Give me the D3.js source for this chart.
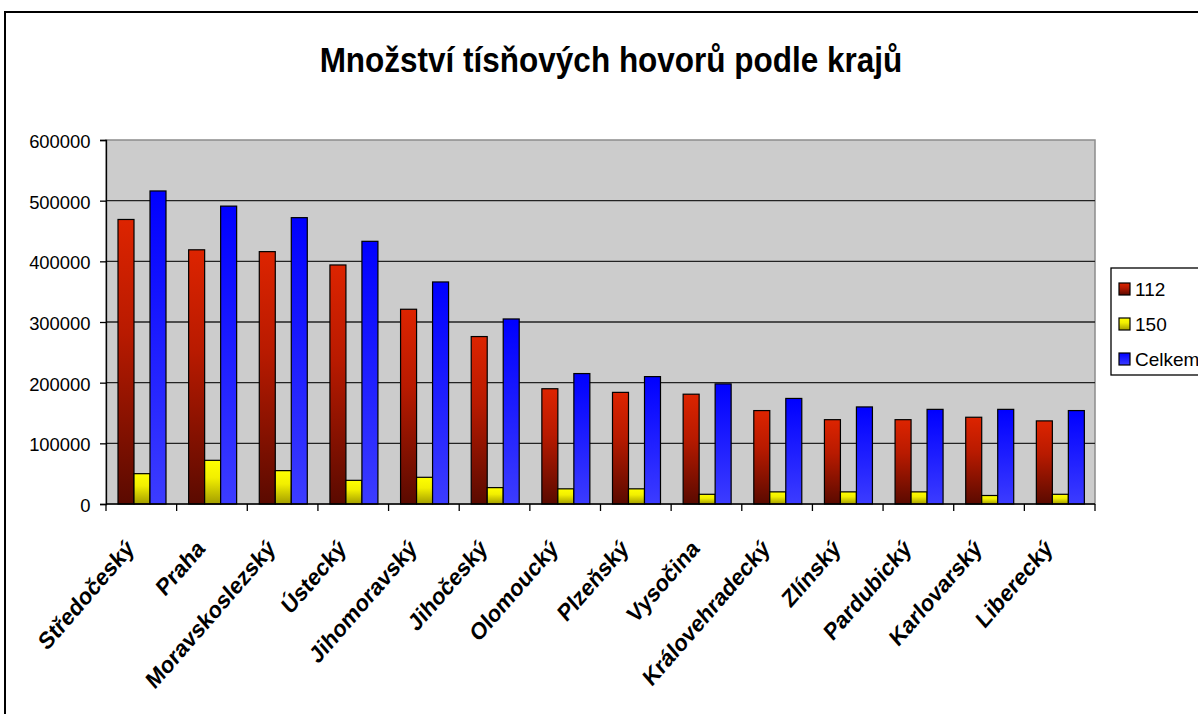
<!DOCTYPE html>
<html>
<head>
<meta charset="utf-8">
<script src="https://cdn.jsdelivr.net/npm/d3@7"></script>
<style>
  body { margin: 0; background: #fff; }
  svg { display: block; font-family: "Liberation Sans", Arial, sans-serif; }
</style>
</head>
<body>
<svg id="chart" width="1198" height="714"></svg>
<script>
// data
const regions = ['Středočeský', 'Praha', 'Moravskoslezský', 'Ústecký', 'Jihomoravský',
  'Jihočeský', 'Olomoucký', 'Plzeňský', 'Vysočina', 'Královehradecký',
  'Zlínský', 'Pardubický', 'Karlovarský', 'Liberecký'];
const calls112 = [469000, 419000, 416000, 394000, 321000, 276000, 190000, 184000, 181000, 154000, 139000, 139000, 143000, 137000];
const calls150 = [50000, 72000, 55000, 39000, 44000, 27000, 25000, 25000, 16000, 20000, 20000, 20000, 14000, 16000];
const callsTotal = [516000, 491000, 472000, 433000, 366000, 305000, 215000, 210000, 198000, 174000, 160000, 156000, 156000, 154000];
const seriesNames = ['112', '150', 'Celkem'];
const yTicks = [0, 100000, 200000, 300000, 400000, 500000, 600000];

const seriesValues = [calls112, calls150, callsTotal];
const rows = regions.map((r, i) => ({
  region: r,
  values: seriesNames.map((s, k) => ({ key: s, value: seriesValues[k][i] }))
}));

const svg = d3.select('#chart');
const plot = { left: 106, right: 1095, top: 140, bottom: 504 };

// gradients, one per series (light top / dark bottom like the original)
const grads = {
  '112': ['#dd2400', '#b81a00', '#5a0a00'],
  '150': ['#ffff00', '#f2ef00', '#a39d00'],
  'Celkem': ['#0000ff', '#1818ff', '#3c3cff']
};
const defs = svg.append('defs');
Object.entries(grads).forEach(([k, c], i) => {
  const g = defs.append('linearGradient')
    .attr('id', 'g' + i)
    .attr('x1', 0).attr('y1', 0).attr('x2', 0).attr('y2', 1);
  g.append('stop').attr('offset', '0%').attr('stop-color', c[0]);
  g.append('stop').attr('offset', '40%').attr('stop-color', c[1]);
  g.append('stop').attr('offset', '100%').attr('stop-color', c[2]);
});
const fillOf = key => 'url(#g' + seriesNames.indexOf(key) + ')';

// outer chart frame
svg.append('rect')
  .attr('x', 5).attr('y', 12)
  .attr('width', 1300).attr('height', 800)
  .attr('fill', 'none')
  .attr('stroke', '#000')
  .attr('stroke-width', 2);

// title (the original glyphs are a touch taller than wide)
svg.append('text')
  .attr('transform', 'translate(611,71.5) scale(1,1.12)')
  .attr('text-anchor', 'middle')
  .attr('font-size', 31.5)
  .attr('font-weight', 'bold')
  .text('Množství tísňových hovorů podle krajů');

// scales
const x0 = d3.scaleBand()
  .domain(regions)
  .range([plot.left, plot.right])
  .padding(0);

const x1 = d3.scaleBand()
  .domain(seriesNames)
  .range([12, 60])
  .padding(0);

const y = d3.scaleLinear()
  .domain([0, 600000])
  .range([plot.bottom, plot.top]);

// plot background
svg.append('rect')
  .attr('x', plot.left).attr('y', plot.top)
  .attr('width', plot.right - plot.left)
  .attr('height', plot.bottom - plot.top)
  .attr('fill', '#cccccc')
  .attr('stroke', '#8c8c8c')
  .attr('stroke-width', 1.5);

// gridlines
svg.append('g')
  .selectAll('line')
  .data(yTicks.filter(t => t > 0 && t < 600000))
  .join('line')
  .attr('x1', plot.left).attr('x2', plot.right)
  .attr('y1', d => y(d)).attr('y2', d => y(d))
  .attr('stroke', '#222')
  .attr('stroke-width', 1.3);

// bars
const groups = svg.append('g')
  .selectAll('g')
  .data(rows)
  .join('g')
  .attr('transform', d => `translate(${x0(d.region)},0)`);

groups.selectAll('rect')
  .data(d => d.values)
  .join('rect')
  .attr('x', d => x1(d.key))
  .attr('y', d => y(d.value))
  .attr('width', x1.bandwidth())
  .attr('height', d => y(0) - y(d.value))
  .attr('fill', d => fillOf(d.key))
  .attr('stroke', '#000')
  .attr('stroke-width', 1.2);

// y axis
const yAxis = svg.append('g')
  .attr('transform', `translate(${plot.left},0)`)
  .call(d3.axisLeft(y).tickValues(yTicks).tickFormat(d3.format('d')).tickSizeOuter(0).tickSize(6).tickPadding(9.5));
yAxis.select('.domain').attr('stroke', '#000').attr('stroke-width', 1.3);
yAxis.selectAll('.tick line').attr('stroke', '#000').attr('stroke-width', 1.3);
yAxis.selectAll('.tick text')
  .attr('font-size', 18.4)
  .attr('font-family', '"Liberation Sans", Arial, sans-serif')
  .attr('fill', '#000')
  .attr('dy', '0.4em');

// x axis: ticks at category boundaries
const xb = svg.append('g');
xb.append('line')
  .attr('x1', plot.left).attr('x2', plot.right)
  .attr('y1', plot.bottom).attr('y2', plot.bottom)
  .attr('stroke', '#000').attr('stroke-width', 1.3);
xb.selectAll('line.tk')
  .data(regions.concat(['end']))
  .join('line')
  .attr('class', 'tk')
  .attr('x1', (d, i) => plot.left + i * x0.bandwidth())
  .attr('x2', (d, i) => plot.left + i * x0.bandwidth())
  .attr('y1', plot.bottom).attr('y2', plot.bottom + 7)
  .attr('stroke', '#000').attr('stroke-width', 1.3);

xb.selectAll('text')
  .data(regions)
  .join('text')
  .attr('transform', d => `translate(${x0(d) + x0.bandwidth() / 2 - 6},550) scale(1,1.15) rotate(-45)`)
  .attr('text-anchor', 'end')
  .attr('font-size', 21)
  .attr('font-weight', 'bold')
  .text(d => d);

// legend
const legend = svg.append('g');
legend.append('rect')
  .attr('x', 1111).attr('y', 268)
  .attr('width', 120).attr('height', 107)
  .attr('fill', '#fff')
  .attr('stroke', '#000')
  .attr('stroke-width', 1.3);
const items = legend.selectAll('g.item')
  .data(seriesNames)
  .join('g')
  .attr('class', 'item')
  .attr('transform', (d, i) => `translate(1119,${289 + i * 35})`);
items.append('rect')
  .attr('x', 0).attr('y', -6)
  .attr('width', 11).attr('height', 12)
  .attr('fill', d => fillOf(d))
  .attr('stroke', '#000')
  .attr('stroke-width', 1.2);
items.append('text')
  .attr('x', 16).attr('y', 0)
  .attr('dy', '0.36em')
  .attr('font-size', 19)
  .text(d => d);
</script>
</body>
</html>
